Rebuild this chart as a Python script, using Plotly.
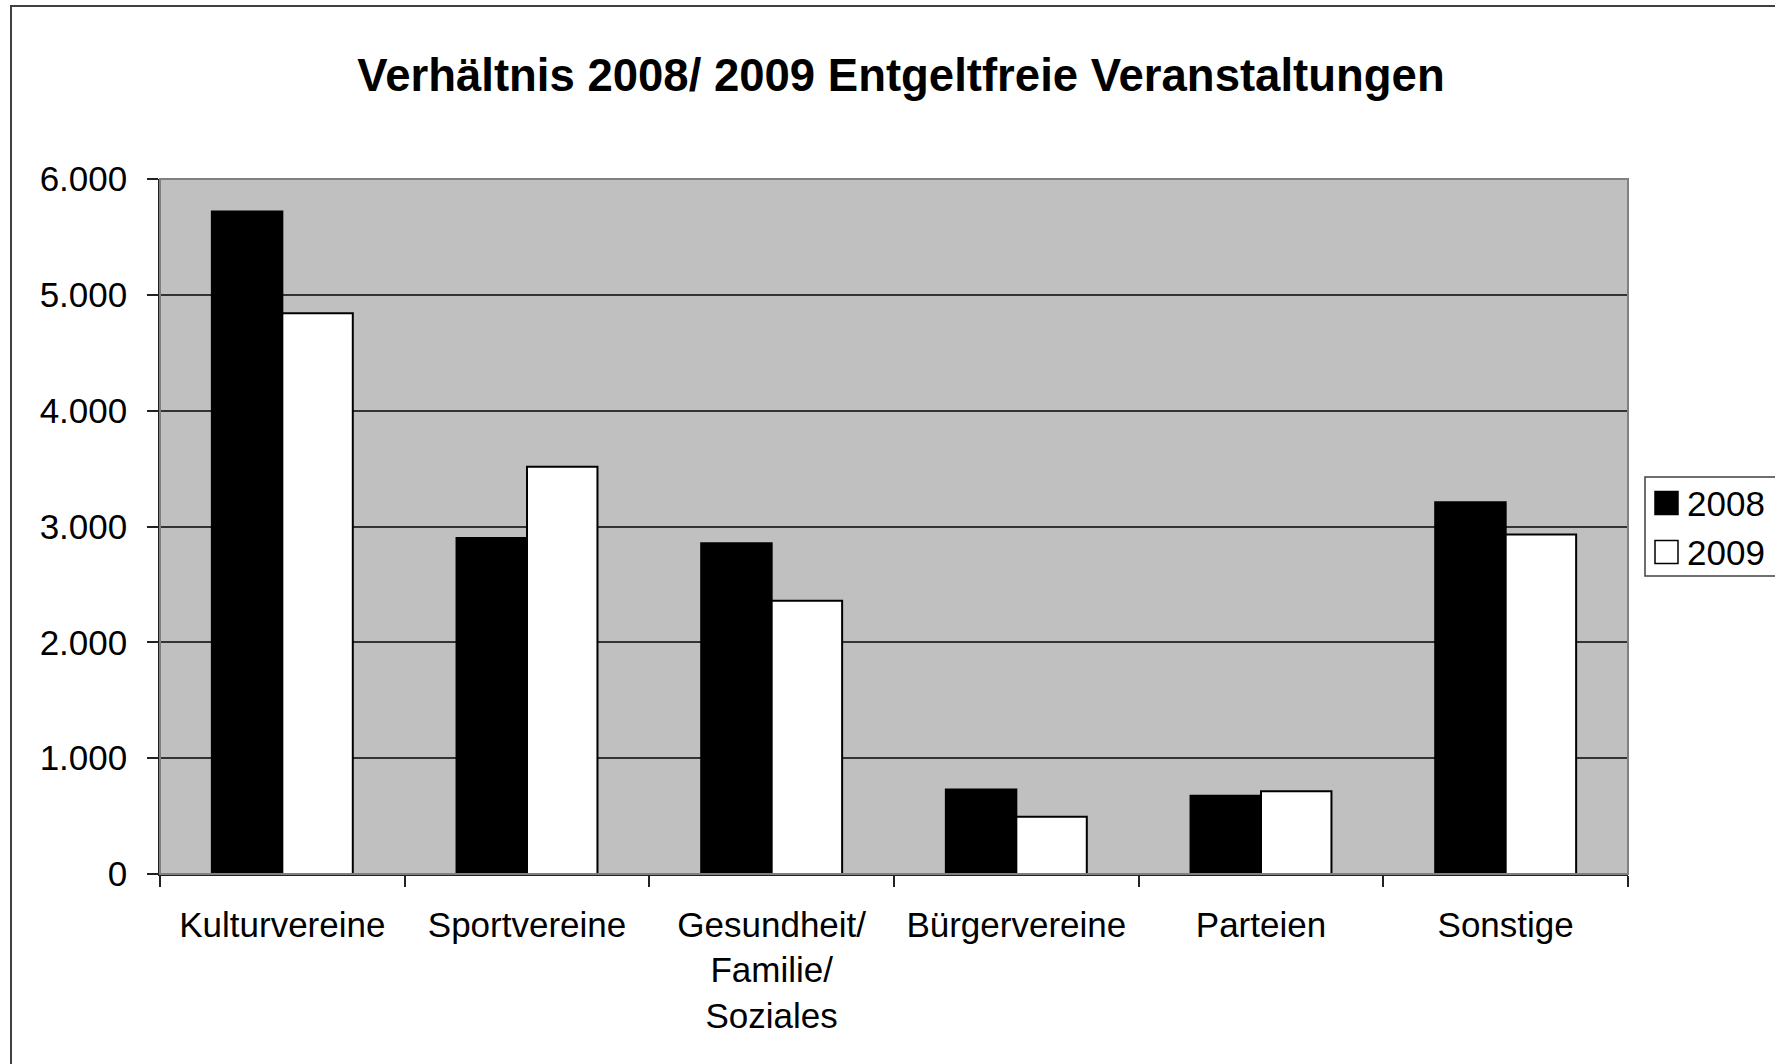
import plotly.graph_objects as go

categories = ["Kulturvereine", "Sportvereine", "Gesundheit/<br>Familie/<br>Soziales",
              "Bürgervereine", "Parteien", "Sonstige"]
series_names = ["2008", "2009"]
values_2008 = [5720, 2900, 2855, 730, 675, 3210]
values_2009 = [4840, 3515, 2360, 495, 715, 2930]
series_colors = ["#000000", "#FFFFFF"]

W, H = 1775, 1064
L, R, T, B = 160, 1628, 179, 874
pw, ph = R - L, B - T

def px(x):
    return (x - L) / pw

def py(y):
    return (B - y) / ph

FONT = "Liberation Sans, Arial, sans-serif"

fig = go.Figure()
for name, vals, col in zip(series_names, [values_2008, values_2009], series_colors):
    fig.add_trace(go.Bar(
        x=categories, y=vals, name=name,
        marker=dict(color=col, line=dict(color="#000000", width=2)),
        showlegend=False,
    ))

shapes = []
# plot area border (top/right gray)
shapes.append(dict(type="rect", xref="paper", yref="paper", x0=0, x1=1, y0=0, y1=1,
                   line=dict(color="#808080", width=2), fillcolor="rgba(0,0,0,0)", layer="above"))
# outer chart border
shapes.append(dict(type="rect", xref="paper", yref="paper",
                   x0=px(11), x1=px(1800), y0=py(1100), y1=py(6),
                   line=dict(color="#404040", width=2), fillcolor="rgba(0,0,0,0)", layer="above"))
# legend box
shapes.append(dict(type="rect", xref="paper", yref="paper",
                   x0=px(1645), x1=px(1790), y0=py(576), y1=py(477),
                   line=dict(color="#404040", width=1.5), fillcolor="#FFFFFF", layer="above"))
annotations = []
row_y = [503, 552]
for name, col, ry in zip(series_names, series_colors, row_y):
    shapes.append(dict(type="rect", xref="paper", yref="paper",
                       x0=px(1655), x1=px(1678), y0=py(ry + 11.5), y1=py(ry - 11.5),
                       line=dict(color="#000000", width=1.5), fillcolor=col, layer="above"))
    annotations.append(dict(text=name, xref="paper", yref="paper", x=px(1685), y=py(ry),
                            xanchor="left", yanchor="middle", showarrow=False,
                            font=dict(family=FONT, size=35, color="#000000")))

fig.update_layout(
    width=W, height=H,
    margin=dict(l=L, r=W - R, t=T, b=H - B, pad=0),
    paper_bgcolor="#FFFFFF",
    plot_bgcolor="#C0C0C0",
    barmode="group", bargap=0.424, bargroupgap=0,
    separators=",.",
    font=dict(family=FONT, size=35, color="#000000"),
    title=dict(text="<b>Verhältnis 2008/ 2009 Entgeltfreie Veranstaltungen</b>",
               x=901 / W, xref="container", xanchor="center",
               y=1 - 75 / H, yref="container", yanchor="middle",
               font=dict(family=FONT, size=45.5, color="#000000")),
    shapes=shapes,
    annotations=annotations,
    showlegend=False,
)
fig.update_yaxes(range=[0, 6000], dtick=1000, tickformat=",d",
                 showgrid=True, gridcolor="#333333", gridwidth=1.5,
                 zeroline=False, showline=True, linecolor="#222222", linewidth=1.5,
                 ticks="outside", ticklen=11, tickcolor="#222222", tickwidth=1.5,
                 ticklabelstandoff=13,
                 tickfont=dict(family=FONT, size=35, color="#000000"))
fig.update_xaxes(showgrid=False, zeroline=False, showline=True, linecolor="#222222", linewidth=1.5,
                 ticks="outside", tickson="boundaries", ticklen=11, tickcolor="#222222", tickwidth=1.5,
                 ticklabelstandoff=19,
                 tickfont=dict(family=FONT, size=35, color="#000000"))

fig.write_html("out.html",
               config={"displayModeBar": False},
               post_script="document.body.style.margin='0';document.body.style.padding='0';"
                           "document.body.style.overflow='hidden';")
